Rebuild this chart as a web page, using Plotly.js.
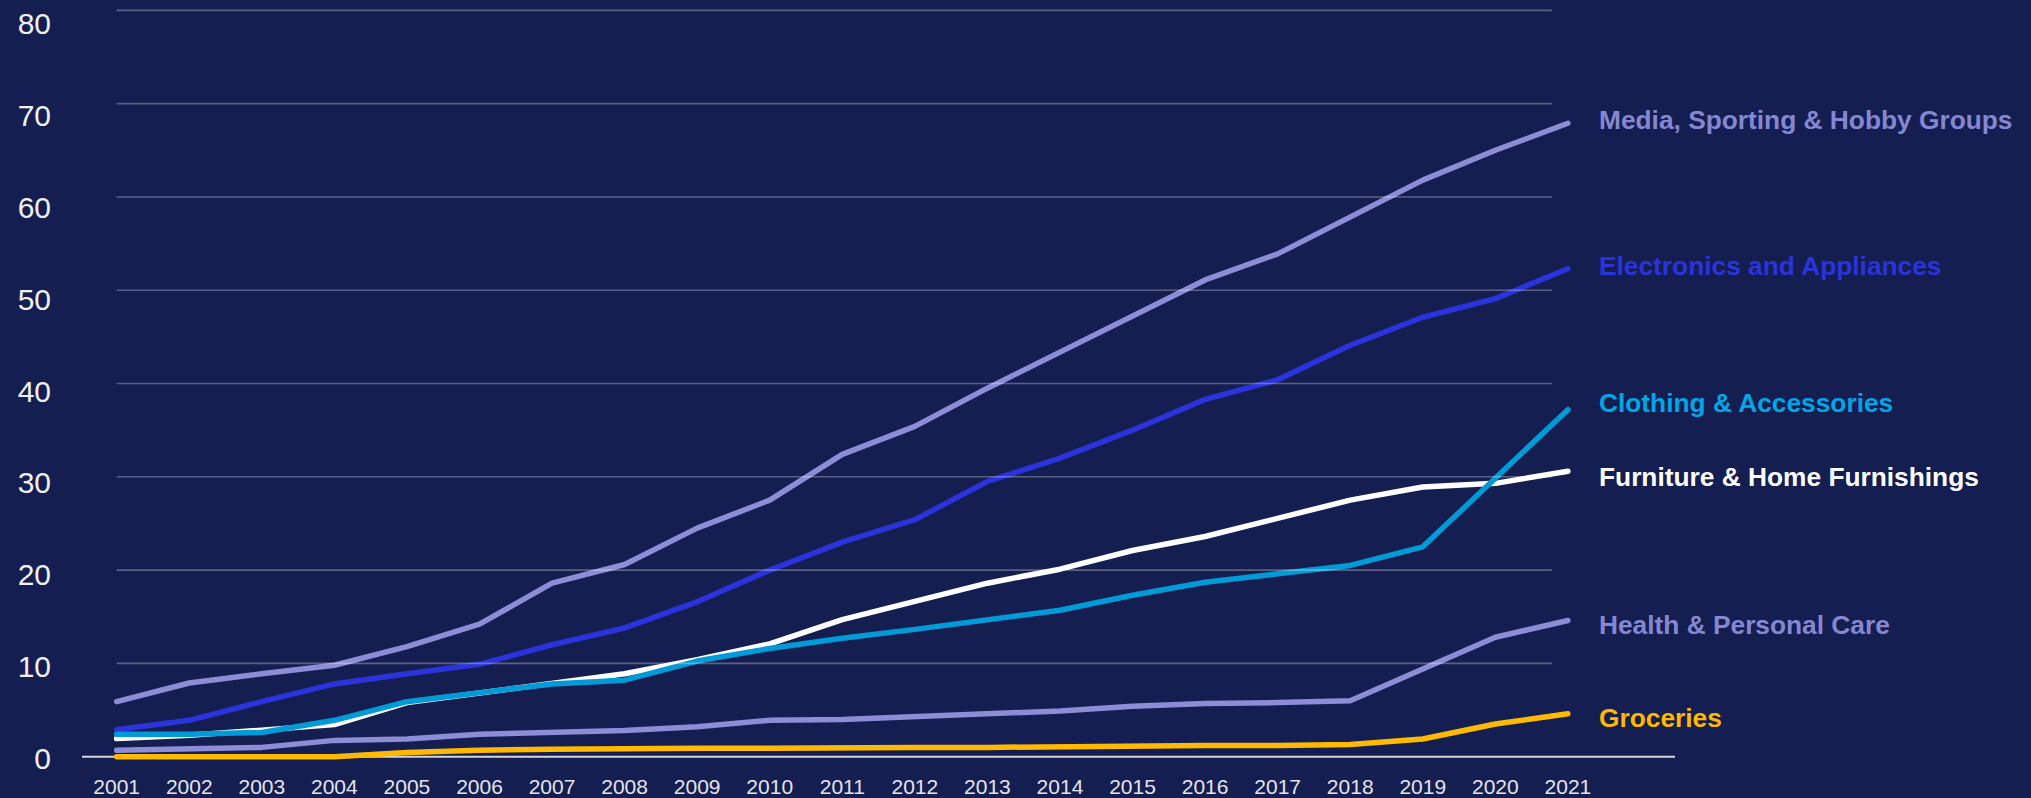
<!DOCTYPE html>
<html>
<head>
<meta charset="utf-8">
<script src="https://cdn.plot.ly/plotly-3.0.1.min.js"></script>
<style>
  html, body { margin: 0; padding: 0; background: #141E50; }
  #chart { width: 2031px; height: 798px; }
</style>
</head>
<body>
<div id="chart"></div>
<script>
const years = [2001,2002,2003,2004,2005,2006,2007,2008,2009,2010,2011,2012,2013,2014,2015,2016,2017,2018,2019,2020,2021];
const media       = [5.9,7.9,8.9,9.8,11.8,14.2,18.6,20.6,24.5,27.5,32.4,35.4,39.5,43.4,47.3,51.1,53.9,57.9,61.8,65.0,67.9];
const electronics = [2.9,3.9,5.9,7.8,8.9,9.9,12.0,13.8,16.6,20.0,23.0,25.4,29.5,32.0,35.0,38.3,40.4,44.1,47.1,49.1,52.3];
const clothing    = [2.4,2.4,2.6,3.9,5.9,6.8,7.8,8.2,10.25,11.6,12.7,13.65,14.65,15.7,17.3,18.7,19.6,20.5,22.5,29.8,37.2];
const furniture   = [1.95,2.3,2.85,3.45,5.8,6.8,7.8,8.9,10.4,12.1,14.7,16.6,18.6,20.1,22.1,23.6,25.5,27.5,28.9,29.3,30.6];
const health      = [0.7,0.9,1.0,1.75,1.9,2.4,2.6,2.8,3.2,3.9,4.0,4.3,4.7,4.9,5.4,5.7,5.8,6.0,9.4,12.8,14.6];
const groceries   = [0,0,0,0,0.45,0.7,0.8,0.9,0.9,0.9,1.0,1.0,1.0,1.1,1.2,1.2,1.2,1.3,1.9,3.5,4.6];

const seriesNames = ["Media, Sporting & Hobby Groups","Electronics and Appliances","Furniture & Home Furnishings","Clothing & Accessories","Health & Personal Care","Groceries"];
const seriesData  = [media, electronics, furniture, clothing, health, groceries];
const lineColors  = ["#8C8DD6","#2B33DC","#FFFFFF","#009AD6","#8C8DD6","#FFB900"];
const labelColors = ["#8587D3","#2B33DC","#FFFFFF","#00A6E6","#8587D3","#FFB900"];
const labelShift  = [3, 3, -6, 7, -4, -4];
const yTicks = [0,10,20,30,40,50,60,70,80];

const traces = seriesNames.map((n, i) => ({
  type: 'scatter', mode: 'lines', name: n,
  x: years, y: seriesData[i],
  line: { color: lineColors[i], width: 5.5 },
  hoverinfo: 'x+y+name'
}));
// invisible helper trace so the tick-label axis is drawn
traces.push({
  type: 'scatter', mode: 'lines', x: [years[0]], y: [0], yaxis: 'y2',
  line: { width: 0 }, hoverinfo: 'skip', showlegend: false
});

const lastYear = years[years.length - 1];
const annotations = seriesNames.map((n, i) => ({
  x: lastYear, y: seriesData[i][seriesData[i].length - 1],
  xref: 'x', yref: 'y',
  text: n, showarrow: false,
  xanchor: 'left', yanchor: 'middle',
  xshift: 29, yshift: labelShift[i],
  font: { family: 'Liberation Sans, Arial, sans-serif', size: 26.3, color: labelColors[i], weight: 'bold' }
}));

const shapes = yTicks.filter(v => v > 0).map(v => ({
  type: 'line', xref: 'x', yref: 'y',
  x0: years[0], x1: 2020.78, y0: v, y1: v,
  line: { color: 'rgba(255,255,255,0.3)', width: 1.6 },
  layer: 'above'
}));
shapes.push({
  type: 'line', xref: 'paper', yref: 'y',
  x0: 0, x1: 1, y0: 0, y1: 0,
  line: { color: '#D6D6DC', width: 2 },
  layer: 'below'
});

const layout = {
  width: 2031, height: 798,
  paper_bgcolor: '#141E50', plot_bgcolor: '#141E50',
  margin: { l: 82, r: 356, t: 1, b: 30 },
  showlegend: false,
  xaxis: {
    range: [2000.522, 2022.476],
    tickvals: years, ticktext: years.map(String),
    showgrid: false, zeroline: false, showline: false, ticks: '',
    tickfont: { family: 'Liberation Sans, Arial, sans-serif', size: 21, color: '#E4E4EC' },
    ticklabelstandoff: 4,
    ticklabeloverflow: 'allow'
  },
  yaxis: {
    range: [-1.21, 81],
    showticklabels: false,
    showgrid: false, zeroline: false, showline: false, ticks: ''
  },
  yaxis2: {
    overlaying: 'y', side: 'left',
    range: [-1.057, 82.505],
    tickvals: yTicks, ticktext: yTicks.map(String),
    showgrid: false, zeroline: false, showline: false, ticks: '',
    tickfont: { family: 'Liberation Sans, Arial, sans-serif', size: 30, color: '#F0F0F5' },
    ticklabelstandoff: 30,
    ticklabeloverflow: 'allow'
  },
  shapes: shapes,
  annotations: annotations
};

Plotly.newPlot('chart', traces, layout, { displayModeBar: false, staticPlot: true }).then(() => {
  document.querySelectorAll('.scatterlayer path.js-line').forEach(p => {
    p.style.strokeLinecap = 'round';
    p.style.strokeLinejoin = 'round';
  });
});
</script>
</body>
</html>
